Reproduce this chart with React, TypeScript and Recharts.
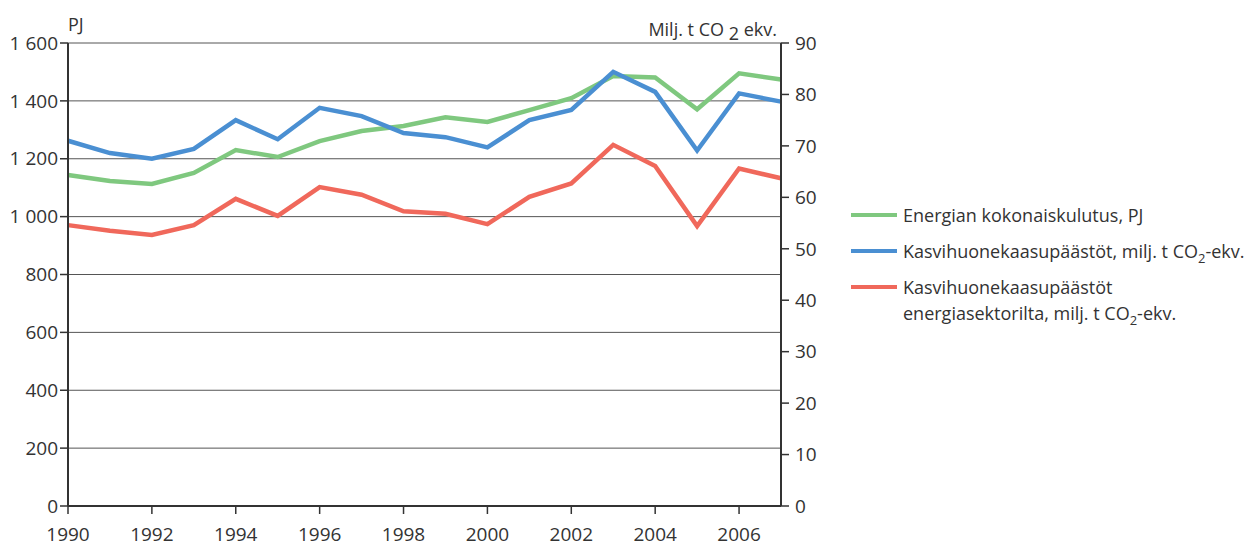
import React from "react";
import {CartesianGrid, Line, LineChart, XAxis, YAxis} from "recharts";

const years = [1990, 1991, 1992, 1993, 1994, 1995, 1996, 1997, 1998, 1999, 2000, 2001, 2002, 2003, 2004, 2005, 2006, 2007];
// Energian kokonaiskulutus, PJ (left axis)
const energyPJ = [1144, 1123, 1113, 1151, 1230, 1206, 1261, 1296, 1313, 1343, 1327, 1368, 1409, 1486, 1481, 1371, 1495, 1474];
// Kasvihuonekaasupäästöt, milj. t CO2-ekv. (right axis)
const ghgTotal = [71.0, 68.6, 67.5, 69.4, 75.0, 71.3, 77.4, 75.8, 72.5, 71.7, 69.7, 75.0, 77.0, 84.4, 80.5, 69.1, 80.2, 78.6];
// Kasvihuonekaasupäästöt energiasektorilta (right axis)
const ghgEnergy = [54.6, 53.5, 52.7, 54.6, 59.7, 56.4, 62.0, 60.5, 57.3, 56.8, 54.8, 60.1, 62.7, 70.2, 66.1, 54.4, 65.6, 63.7];

const xTicks = [1990, 1992, 1994, 1996, 1998, 2000, 2002, 2004, 2006];
const leftTicks = [0, 200, 400, 600, 800, 1000, 1200, 1400, 1600];
const rightTicks = [0, 10, 20, 30, 40, 50, 60, 70, 80, 90];

const GREEN = "#7fc87f";
const BLUE = "#4a8fd2";
const RED = "#f0685b";
const INK = "#333";
const FONT = "'Open Sans', sans-serif";

const data = years.map((year, i) => ({
    year,
    energy: energyPJ[i],
    total: ghgTotal[i],
    sector: ghgEnergy[i],
}));

const fmtThousands = (v: number) => String(v).replace(/\B(?=(\d{3})+(?!\d))/g, " ");

const tickStyle = {fill: INK, fontSize: 19, fontFamily: FONT};

const legendItems = [
    {color: GREEN, label: <>Energian kokonaiskulutus, PJ</>},
    {color: BLUE, label: <>Kasvihuonekaasupäästöt, milj. t CO<sub style={{fontSize: 13}}>2</sub>-ekv.</>},
    {color: RED, label: <>Kasvihuonekaasupäästöt<br/>energiasektorilta, milj. t CO<sub style={{fontSize: 13}}>2</sub>-ekv.</>},
];

const LegendBox = () => (
    <div style={{position: "absolute", left: 843, top: 194, fontFamily: FONT, fontSize: 18, color: INK}}>
        {legendItems.map((it, i) => (
            <div key={i} style={{display: "flex", alignItems: "flex-start", height: 36, lineHeight: "26px"}}>
                <div style={{width: 46, height: 4, background: it.color, marginTop: 11, marginRight: 6, flexShrink: 0}}/>
                <div style={{whiteSpace: "nowrap"}}>{it.label}</div>
            </div>
        ))}
    </div>
);

export default function App() {
    return (
        <div style={{position: "relative", width: 1240, height: 541}}>
            <LineChart width={1240} height={541} data={data} margin={{top: 35, right: 417, bottom: 3, left: 0}}>
                <CartesianGrid yAxisId="left" vertical={false} stroke="#555" strokeWidth={1} horizontalValues={leftTicks}/>
                <XAxis dataKey="year" type="number" domain={[1990, 2007]} ticks={xTicks} interval={0}
                       height={40} tick={tickStyle} tickSize={8} tickMargin={14}
                       axisLine={{stroke: INK, strokeWidth: 2}} tickLine={{stroke: INK, strokeWidth: 1.5}}/>
                <YAxis yAxisId="left" domain={[0, 1600]} ticks={leftTicks} width={60} tick={tickStyle}
                       tickFormatter={fmtThousands} tickSize={8} tickMargin={2}
                       axisLine={{stroke: INK, strokeWidth: 2}} tickLine={{stroke: INK, strokeWidth: 1.5}}/>
                <YAxis yAxisId="right" orientation="right" domain={[0, 90]} ticks={rightTicks} width={50}
                       tick={tickStyle} tickSize={8} tickMargin={6}
                       axisLine={{stroke: INK, strokeWidth: 2}} tickLine={{stroke: INK, strokeWidth: 1.5}}/>
                <Line yAxisId="left" dataKey="energy" stroke={GREEN} strokeWidth={4.5} dot={false} isAnimationActive={false}/>
                <Line yAxisId="right" dataKey="total" stroke={BLUE} strokeWidth={4.5} dot={false} isAnimationActive={false}/>
                <Line yAxisId="right" dataKey="sector" stroke={RED} strokeWidth={4.5} dot={false} isAnimationActive={false}/>
            </LineChart>
            <LegendBox/>
            <div style={{position: "absolute", left: 60, top: 4, fontFamily: FONT, fontSize: 18, color: INK}}>PJ</div>
            <div style={{position: "absolute", right: 471, top: 9, fontFamily: FONT, fontSize: 18, color: INK, whiteSpace: "nowrap"}}>
                Milj. t CO <span style={{position: "relative", top: 4}}>2</span> ekv.
            </div>
        </div>
    );
}
